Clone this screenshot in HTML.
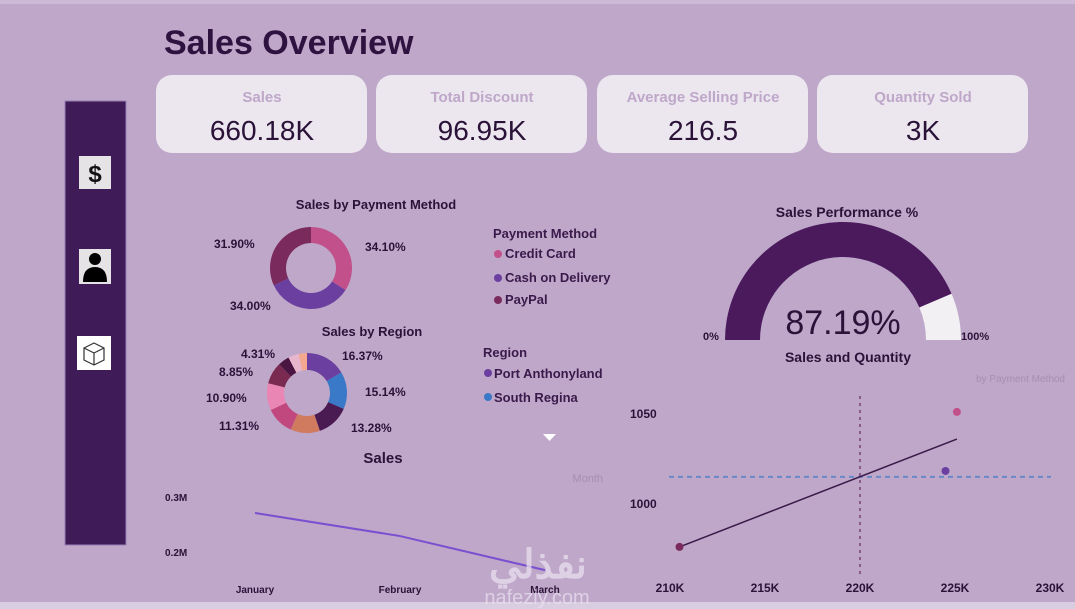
<!DOCTYPE html>
<html><head><meta charset="utf-8"><style>
html,body{margin:0;padding:0;width:1075px;height:609px;overflow:hidden;background:#bea7c9;font-family:"Liberation Sans","Noto Sans CJK SC",sans-serif}
svg{position:absolute;left:0;top:0}
text{font-family:"Liberation Sans","Noto Sans CJK SC",sans-serif}
</style></head><body>
<svg id="s" width="1075" height="609" viewBox="0 0 1075 609" xmlns="http://www.w3.org/2000/svg">
<rect x="0" y="0" width="1075" height="4" fill="#cdbad6"/>
<rect x="0" y="602" width="1075" height="7" fill="#d9cde2"/>
<text x="164" y="54" font-size="34" font-weight="bold" fill="#2e1240">Sales Overview</text>
<g>
<rect x="65" y="101" width="61" height="444" fill="#3f1c57" stroke="#9b7fb5" stroke-width="1"/>
<g><rect x="79" y="156" width="32" height="33" fill="#e6e3e6"/><text x="95" y="182" font-size="24" font-weight="bold" text-anchor="middle" fill="#111">$</text></g>
<g><rect x="79" y="249" width="32" height="35" fill="#e6e3e6"/><circle cx="95" cy="259" r="6" fill="#000"/><path d="M83 282 Q83 267 95 267 Q107 267 107 282 Z" fill="#000"/></g>
<g><rect x="77" y="336" width="34" height="34" fill="#fff"/><path d="M84 348 L94 343 L104 348 L104 360 L94 365 L84 360 Z M84 348 L94 353 L104 348 M94 353 L94 365" fill="none" stroke="#333" stroke-width="1.2"/></g>
</g>
<g>
<g><rect x="156" y="75" width="211" height="78" rx="16" fill="#ece6ef"/><text x="262" y="102" font-size="15" font-weight="bold" fill="#bea7c9" text-anchor="middle">Sales</text><text x="262" y="140" font-size="28" fill="#2a1238" text-anchor="middle">660.18K</text></g>
<g><rect x="376" y="75" width="211" height="78" rx="16" fill="#ece6ef"/><text x="482" y="102" font-size="15" font-weight="bold" fill="#bea7c9" text-anchor="middle">Total Discount</text><text x="482" y="140" font-size="28" fill="#2a1238" text-anchor="middle">96.95K</text></g>
<g><rect x="597" y="75" width="211" height="78" rx="16" fill="#ece6ef"/><text x="703" y="102" font-size="15" font-weight="bold" fill="#bea7c9" text-anchor="middle">Average Selling Price</text><text x="703" y="140" font-size="28" fill="#2a1238" text-anchor="middle">216.5</text></g>
<g><rect x="817" y="75" width="211" height="78" rx="16" fill="#ece6ef"/><text x="923" y="102" font-size="15" font-weight="bold" fill="#bea7c9" text-anchor="middle">Quantity Sold</text><text x="923" y="140" font-size="28" fill="#2a1238" text-anchor="middle">3K</text></g>
</g>
<text x="376" y="209" font-size="13" font-weight="bold" fill="#2a1238" text-anchor="middle">Sales by Payment Method</text>
<g id="pay"></g>
<g font-size="12" font-weight="bold" fill="#2a1238">
<text x="214" y="248">31.90%</text><text x="365" y="251">34.10%</text><text x="230" y="310">34.00%</text>
</g>
<g font-size="13" font-weight="bold" fill="#3a1a4a">
<text x="493" y="238">Payment Method</text>
<circle cx="498" cy="254" r="4" fill="#c2508a"/><text x="505" y="258">Credit Card</text>
<circle cx="498" cy="278" r="4" fill="#6a3fa0"/><text x="505" y="282">Cash on Delivery</text>
<circle cx="498" cy="300" r="4" fill="#7a2a5c"/><text x="505" y="304">PayPal</text>
</g>
<text x="372" y="336" font-size="13" font-weight="bold" fill="#2a1238" text-anchor="middle">Sales by Region</text>
<g id="reg"></g>
<g font-size="12" font-weight="bold" fill="#2a1238">
<text x="241" y="358">4.31%</text><text x="342" y="360">16.37%</text><text x="219" y="376">8.85%</text><text x="365" y="396">15.14%</text><text x="206" y="402">10.90%</text><text x="219" y="430">11.31%</text><text x="351" y="432">13.28%</text>
</g>
<g font-size="13" font-weight="bold" fill="#3a1a4a">
<text x="483" y="357">Region</text>
<circle cx="488" cy="373" r="4" fill="#6a3fa0"/><text x="494" y="378">Port Anthonyland</text>
<circle cx="488" cy="397" r="4" fill="#3a78c8"/><text x="494" y="402">South Regina</text>
</g>
<path d="M543 434 L556 434 L549.5 441 Z" fill="#fff"/>
<text x="383" y="463" font-size="15" font-weight="bold" fill="#2a1238" text-anchor="middle">Sales</text>
<text x="603" y="482" font-size="11" fill="#a58fb2" text-anchor="end">Month</text>
<g id="line"></g>
<text x="847" y="217" font-size="14" font-weight="bold" fill="#2a1238" text-anchor="middle">Sales Performance %</text>
<g id="gauge"></g>
<text x="703" y="340" font-size="11" font-weight="bold" fill="#2a1238">0%</text>
<text x="961" y="340" font-size="11" font-weight="bold" fill="#2a1238">100%</text>
<text x="843" y="334" font-size="34" fill="#2a1238" text-anchor="middle">87.19%</text>
<text x="848" y="362" font-size="14" font-weight="bold" fill="#2a1238" text-anchor="middle">Sales and Quantity</text>
<text x="1065" y="382" font-size="10" fill="#a58fb2" text-anchor="end">by Payment Method</text>
<g id="scat"></g>
<g fill="#e9e0ef" opacity="0.75">
<text x="538" y="578" font-size="40" font-weight="bold" text-anchor="middle" font-family="'DejaVu Sans',sans-serif">نفذلي</text>
<text x="537" y="604" font-size="20" text-anchor="middle">nafeziy.com</text>
</g>
</svg>
<script>
const NS='http://www.w3.org/2000/svg';
function mk(p,t,a){const e=document.createElementNS(NS,t);for(const k in a)e.setAttribute(k,a[k]);p.appendChild(e);return e;}
// Payment donut data
const payMethods=['Credit Card','Cash on Delivery','PayPal'];
const payShares=[34.10,34.00,31.90];
const payColors=['#c2508a','#6a3fa0','#7a2a5c'];
// Region donut data
const regionShares=[16.37,15.14,13.28,11.9,11.31,10.90,8.85,4.6,4.31,3.34];
const regionColors=['#6a3fa0','#3a78c8','#4a1a52','#d07a60','#c0487e','#ea86b4','#7a2a50','#4a1540','#e8b6cc','#f4a890'];
function donut(g,cx,cy,ro,ri,vals,cols,nm){
  const tot=vals.reduce((a,b)=>a+b,0);let a0=-Math.PI/2;
  vals.forEach((v,i)=>{const a1=a0+v/tot*2*Math.PI;const L=(a1-a0)>Math.PI?1:0;
    const p=(r,a)=>[cx+r*Math.cos(a),cy+r*Math.sin(a)];
    const [x1,y1]=p(ro,a0),[x2,y2]=p(ro,a1),[x3,y3]=p(ri,a1),[x4,y4]=p(ri,a0);
    const e=mk(g,'path',{d:`M${x1} ${y1}A${ro} ${ro} 0 ${L} 1 ${x2} ${y2}L${x3} ${y3}A${ri} ${ri} 0 ${L} 0 ${x4} ${y4}Z`,fill:cols[i]});
    
    
    a0=a1;});
}
donut(document.getElementById('pay'),311,268,41,25,payShares,payColors,'payment');
donut(document.getElementById('reg'),307,393,40,23,regionShares,regionColors,'region');
// Gauge
const gaugeValue=87.19, gaugeMax=100;
(function(){const g=document.getElementById('gauge');const cx=843,cy=340,ro=118,ri=83;
 const arc=(f0,f1,c,n)=>{const a0=Math.PI*(1+f0),a1=Math.PI*(1+f1);const p=(r,a)=>[cx+r*Math.cos(a),cy+r*Math.sin(a)];
  const [x1,y1]=p(ro,a0),[x2,y2]=p(ro,a1),[x3,y3]=p(ri,a1),[x4,y4]=p(ri,a0);
  const e=mk(g,'path',{d:`M${x1} ${y1}A${ro} ${ro} 0 0 1 ${x2} ${y2}L${x3} ${y3}A${ri} ${ri} 0 0 0 ${x4} ${y4}Z`,fill:c});
  
  };
 arc(0,gaugeValue/gaugeMax,'#4a1a5c','gauge-fill');arc(gaugeValue/gaugeMax,1,'#f3f0f4','gauge-remainder');})();
// Line chart
const months=['January','February','March'];
const monthSales=[0.271,0.229,0.167];
const lineTicks=[0.2,0.3];
(function(){const g=document.getElementById('line');
 const xs=i=>255+i*145, ys=v=>552-(v-0.2)*550;
 lineTicks.forEach(t=>{const e=mk(g,'text',{x:165,y:ys(t)+4,'font-size':10,'font-weight':'bold',fill:'#2a1238'});e.textContent=t.toFixed(1)+'M';
  
  });
 months.forEach((m,i)=>{const e=mk(g,'text',{x:xs(i),y:593,'font-size':10,'font-weight':'bold',fill:'#2a1238','text-anchor':'middle'});e.textContent=m;
  
  });
 const l=mk(g,'polyline',{points:monthSales.map((v,i)=>xs(i)+','+ys(v)).join(' '),fill:'none',stroke:'#7a4fd0','stroke-width':2});
 
 })();
// Scatter
const scatterSales=[210.5,224.5,225.1];
const scatterQty=[975.6,1017.8,1050.6];
const scatterColors=['#7a2a5c','#6a3fa0','#c2508a'];
const xTicks=[210,215,220,225,230];
const yTicks=[1000,1050];
const trendStart=[210.5,975.6], trendEnd=[225.1,1035.5];
const avgSales=220, avgQty=1014.5;
(function(){const g=document.getElementById('scat');
 const X=v=>670+(v-210)*19, Y=v=>503-(v-1000)*1.8;
 xTicks.forEach(t=>{const e=mk(g,'text',{x:X(t),y:592,'font-size':12,'font-weight':'bold',fill:'#2a1238','text-anchor':'middle'});e.textContent=t+'K';
  
  });
 yTicks.forEach(t=>{const e=mk(g,'text',{x:630,y:Y(t)+5,'font-size':12,'font-weight':'bold',fill:'#2a1238'});e.textContent=t;
  
  });
 const h=mk(g,'line',{x1:669,x2:1051,y1:Y(avgQty),y2:Y(avgQty),stroke:'#6a88c8','stroke-width':2,'stroke-dasharray':'5 4'});
 
 
 const v=mk(g,'line',{x1:X(avgSales),x2:X(avgSales),y1:396,y2:577,stroke:'#8a5a8a','stroke-width':2,'stroke-dasharray':'3 4'});
 
 
 const t=mk(g,'line',{x1:X(trendStart[0]),y1:Y(trendStart[1]),x2:X(trendEnd[0]),y2:Y(trendEnd[1]),stroke:'#3a1a48','stroke-width':1.5});
 
 
 scatterSales.forEach((s,i)=>{const c=mk(g,'circle',{cx:X(s),cy:Y(scatterQty[i]),r:4,fill:scatterColors[i]});
  
  });})();
</script>
</body></html>
